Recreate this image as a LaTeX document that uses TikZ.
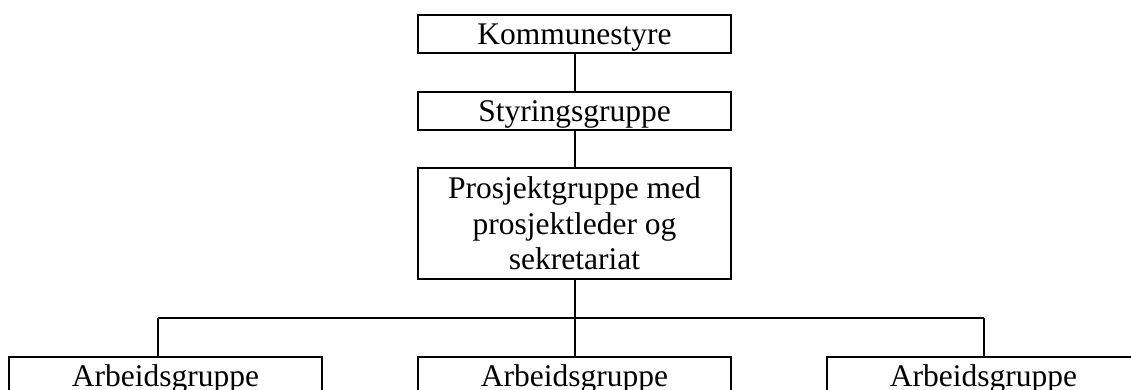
\documentclass[tikz,border=0pt]{standalone}
\usepackage{fontspec}
\setmainfont{Liberation Serif}
\usepackage{tikz}
\usetikzlibrary{positioning}
\tikzset{
  org_box/.style = {draw=black, line width=0.8pt, rectangle, align=center,
    inner sep=0pt, outer sep=0pt, minimum width=125.2pt,
    font=\fontsize{12.6}{14.2}\selectfont},% boks i organisasjonskartet
  org_top/.style = {org_box, minimum height=15.2pt, text depth=0pt},% enkel linje
  org_mid/.style = {org_box, minimum height=44.4pt},% tre linjer
  org_line/.style = {draw=black, line width=0.8pt}
}

\begin{document}
\begin{tikzpicture}[x=0.4pt,y=-0.4pt]
\useasboundingbox (0,0) rectangle (1131,389);

\node [org_top] (ks) at (574.5,34) {Kommunestyre};
\node [org_top, below=15.6pt of ks] (sg) {Styringsgruppe};
\node [org_mid, below=15.2pt of sg] (pg) {Prosjektgruppe med\\prosjektleder og\\sekretariat};

\node [org_top, below=31.2pt of pg] (ag2) {Arbeidsgruppe};
\node [org_top, left=38.4pt of ag2] (ag1) {Arbeidsgruppe};
\node [org_top, right=38.4pt of ag2] (ag3) {Arbeidsgruppe};

% forgreining
\coordinate (fork) at ([yshift=-15.6pt]pg.south);
\coordinate (forkL) at ([xshift=-2.8pt]ag1.north |- fork);
\coordinate (forkR) at (ag3.north |- fork);

\draw [org_line] (ks) -- (sg);
\draw [org_line] (sg) -- (pg);
\draw [org_line] (pg) -- (ag2);
\draw [org_line] (forkL) -- (forkR);
\draw [org_line] (forkL) -- (forkL |- ag1.north);
\draw [org_line] (forkR) -- (ag3.north);
\end{tikzpicture}
\end{document}
